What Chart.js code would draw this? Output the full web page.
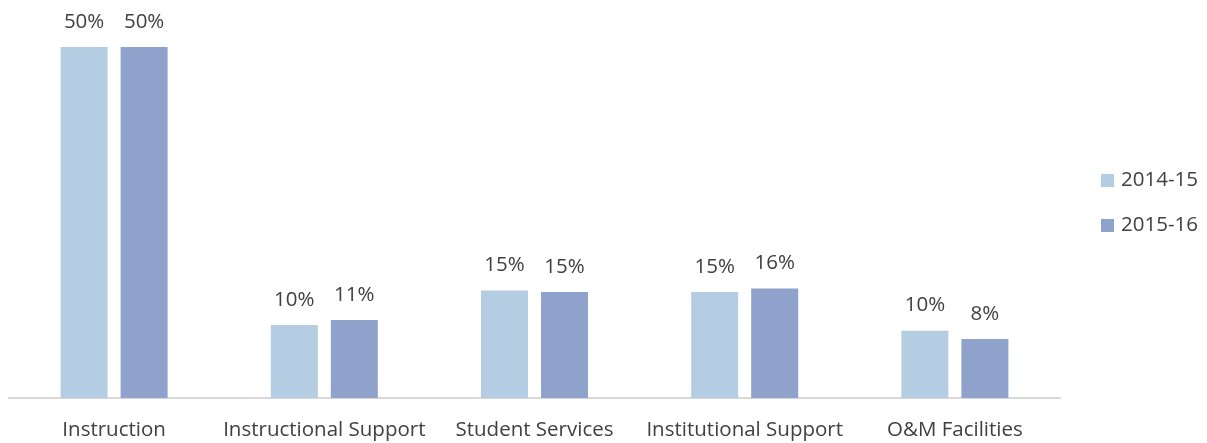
<!DOCTYPE html>
<html>
<head>
<meta charset="utf-8">
<script src="https://cdn.jsdelivr.net/npm/chart.js@4.4.1/dist/chart.umd.min.js"></script>
<style>
  html, body { margin: 0; padding: 0; background: #fff; }
  #wrap { width: 1207px; height: 443px; }
</style>
</head>
<body>
<div id="wrap"><canvas id="spendChart"></canvas></div>
<script>
const categories = ['Instruction', 'Instructional Support', 'Student Services', 'Institutional Support', 'O&M Facilities'];
const years = ['2014-15', '2015-16'];
const share1415 = [50.0, 10.4, 15.3, 15.1, 9.6];
const share1516 = [50.0, 11.1, 15.1, 15.6, 8.4];
const yearColors = ['#B4CDE2', '#8EA2CB'];

const FONT = '"Open Sans", "Liberation Sans", sans-serif';
const TEXT = '#404040';

// writes the rounded percentage above every bar
const valueLabels = {
  id: 'valueLabels',
  afterDatasetsDraw(chart) {
    const { ctx } = chart;
    ctx.save();
    ctx.font = '20.5px ' + FONT;
    ctx.fillStyle = TEXT;
    ctx.textAlign = 'center';
    ctx.textBaseline = 'middle';
    chart.data.datasets.forEach((ds, i) => {
      chart.getDatasetMeta(i).data.forEach((bar, j) => {
        ctx.fillText(Math.round(ds.data[j]) + '%', bar.x, bar.y - 25);
      });
    });
    ctx.restore();
  }
};

// small legend in the right margin, one row per year
const sideLegend = {
  id: 'sideLegend',
  afterDraw(chart) {
    const { ctx, chartArea } = chart;
    const x = chartArea.right + 41;
    const rowGap = 45;
    const y0 = (chartArea.top + chartArea.bottom) / 2 - rowGap / 2 - 2;
    ctx.save();
    ctx.font = '20.5px ' + FONT;
    ctx.textBaseline = 'middle';
    chart.data.datasets.forEach((ds, i) => {
      const y = y0 + i * rowGap;
      ctx.fillStyle = ds.backgroundColor;
      ctx.fillRect(x, y - 6.5, 13, 13);
      ctx.fillStyle = TEXT;
      ctx.fillText(ds.label, x + 20, y);
    });
    ctx.restore();
  }
};

new Chart(document.getElementById('spendChart'), {
  type: 'bar',
  data: {
    labels: categories,
    datasets: [
      { label: years[0], data: share1415, backgroundColor: yearColors[0] },
      { label: years[1], data: share1516, backgroundColor: yearColors[1] }
    ]
  },
  options: {
    responsive: true,
    maintainAspectRatio: false,
    animation: false,
    layout: { padding: { top: 12, left: 9, right: 147, bottom: 0 } },
    datasets: { bar: { categoryPercentage: 0.571, barPercentage: 0.783 } },
    scales: {
      x: {
        grid: { display: false, drawTicks: false },
        border: { color: '#D9D9D9', width: 2 },
        ticks: { color: TEXT, font: { family: FONT, size: 20.5 }, padding: 20 },
        afterFit(scale) { scale.height = 45; }
      },
      y: { display: false, min: 0, max: 55 }
    },
    plugins: {
      legend: { display: false },
      tooltip: { enabled: false }
    }
  },
  plugins: [valueLabels, sideLegend]
});
</script>
</body>
</html>
